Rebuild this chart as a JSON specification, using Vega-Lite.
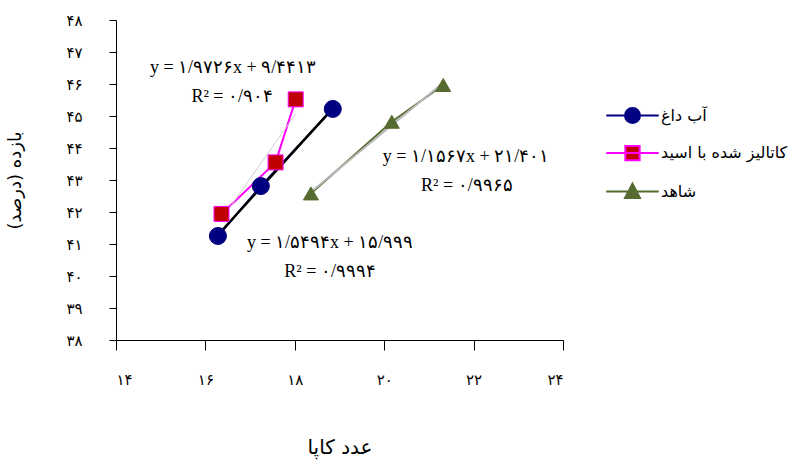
{
  "$schema": "https://vega.github.io/schema/vega-lite/v6.json",
  "width": 447,
  "height": 320,
  "autosize": {"type": "none"},
  "padding": {"left": 116, "top": 20, "right": 239, "bottom": 128},
  "background": "white",
  "config": {
    "view": {"stroke": null},
    "font": "DejaVu Sans",
    "legend": {
      "orient": "none",
      "legendX": 508,
      "legendY": 87,
      "padding": 0,
      "symbolSize": 225,
      "symbolStrokeWidth": 2,
      "labelOffset": 20,
      "rowPadding": 14.5,
      "labelFontSize": 16,
      "labelFont": "DejaVu Sans",
      "labelColor": "black",
      "labelLimit": 0
    }
  },
  "datasets": {
    "pts": [
      {"series": "آب داغ", "kappa": 16.28, "yield": 41.25},
      {"series": "آب داغ", "kappa": 17.24, "yield": 42.81},
      {"series": "آب داغ", "kappa": 18.85, "yield": 45.22},
      {"series": "کاتالیز شده با اسید", "kappa": 16.36, "yield": 41.94},
      {"series": "کاتالیز شده با اسید", "kappa": 17.57, "yield": 43.55},
      {"series": "کاتالیز شده با اسید", "kappa": 18.02, "yield": 45.52},
      {"series": "شاهد", "kappa": 18.36, "yield": 42.58},
      {"series": "شاهد", "kappa": 20.17, "yield": 44.82},
      {"series": "شاهد", "kappa": 21.32, "yield": 45.97}
    ],
    "notes": [
      {"kappa": 16.62, "yield": 46.5, "label": "y = ۱/۹۷۲۶x + ۹/۴۴۱۳"},
      {"kappa": 16.6, "yield": 45.6, "label": "R² = ۰/۹۰۴"},
      {"kappa": 18.79, "yield": 41.03, "label": "y = ۱/۵۴۹۴x + ۱۵/۹۹۹"},
      {"kappa": 18.79, "yield": 40.12, "label": "R² = ۰/۹۹۹۴"},
      {"kappa": 21.83, "yield": 43.72, "label": "y = ۱/۱۵۶۷x + ۲۱/۴۰۱"},
      {"kappa": 21.85, "yield": 42.81, "label": "R² = ۰/۹۹۶۵"}
    ]
  },
  "encoding": {
    "x": {
      "field": "kappa", "type": "quantitative",
      "scale": {"domain": [14, 24], "nice": false, "zero": false},
      "axis": {
        "values": [14, 16, 18, 20, 22, 24],
        "tickCount": 20,
        "format": "d",
        "title": "عدد کاپا",
        "grid": false,
        "labelOverlap": false,
        "domainColor": "black",
        "tickColor": "black",
        "tickSize": 10,
        "labelPadding": 22,
        "labelFontSize": 15,
        "labelColor": "black",
        "labelFont": "DejaVu Sans",
        "titleFont": "DejaVu Sans",
        "titleFontSize": 20,
        "titleFontWeight": "normal",
        "titleColor": "black",
        "titlePadding": 50,
        "labelExpr": "replace(replace(replace(replace(replace(replace(replace(replace(replace(replace(datum.label,regexp('0','g'),'۰'),regexp('1','g'),'۱'),regexp('2','g'),'۲'),regexp('3','g'),'۳'),regexp('4','g'),'۴'),regexp('5','g'),'۵'),regexp('6','g'),'۶'),regexp('7','g'),'۷'),regexp('8','g'),'۸'),regexp('9','g'),'۹')"
      }
    },
    "y": {
      "field": "yield", "type": "quantitative",
      "scale": {"domain": [38, 48], "nice": false, "zero": false},
      "axis": {
        "values": [38, 39, 40, 41, 42, 43, 44, 45, 46, 47, 48],
        "tickCount": 20,
        "format": "d",
        "title": "بازده (درصد)",
        "grid": false,
        "labelOverlap": false,
        "domainColor": "black",
        "tickColor": "black",
        "tickSize": 7,
        "labelPadding": 27,
        "labelFontSize": 15,
        "labelColor": "black",
        "labelFont": "DejaVu Sans",
        "titleFont": "DejaVu Sans",
        "titleFontSize": 18,
        "titleFontWeight": "normal",
        "titleColor": "black",
        "titlePadding": 41,
        "labelExpr": "replace(replace(replace(replace(replace(replace(replace(replace(replace(replace(datum.label,regexp('0','g'),'۰'),regexp('1','g'),'۱'),regexp('2','g'),'۲'),regexp('3','g'),'۳'),regexp('4','g'),'۴'),regexp('5','g'),'۵'),regexp('6','g'),'۶'),regexp('7','g'),'۷'),regexp('8','g'),'۸'),regexp('9','g'),'۹')"
      }
    }
  },
  "layer": [
    {
      "data": {"name": "pts"},
      "mark": {"type": "line", "strokeWidth": 2},
      "encoding": {
        "color": {
          "field": "series", "type": "nominal",
          "scale": {"domain": ["آب داغ", "کاتالیز شده با اسید", "شاهد"], "range": ["#000080", "#ff00ff", "#556b2f"]},
          "legend": null
        }
      }
    },
    {
      "data": {"name": "pts"},
      "transform": [{"regression": "yield", "on": "kappa", "groupby": ["series"]}],
      "mark": {"type": "line"},
      "encoding": {
        "detail": {"field": "series", "type": "nominal"},
        "stroke": {
          "condition": [
            {"test": "datum.series === 'آب داغ'", "value": "#000000"},
            {"test": "datum.series === 'شاهد'", "value": "#b8b8b8"}
          ],
          "value": "#d0d0d0"
        },
        "strokeWidth": {
          "condition": [
            {"test": "datum.series === 'آب داغ'", "value": 2.5},
            {"test": "datum.series === 'شاهد'", "value": 2}
          ],
          "value": 1
        }
      }
    },
    {
      "data": {"name": "pts"},
      "mark": {"type": "point", "filled": true, "opacity": 1, "strokeWidth": 1},
      "encoding": {
        "shape": {
          "field": "series", "type": "nominal",
          "scale": {"domain": ["آب داغ", "کاتالیز شده با اسید", "شاهد"], "range": ["circle", "square", "triangle-up"]},
          "legend": null
        },
        "fill": {
          "field": "series", "type": "nominal",
          "scale": {"domain": ["آب داغ", "کاتالیز شده با اسید", "شاهد"], "range": ["#000080", "#c00000", "#556b2f"]},
          "legend": null
        },
        "stroke": {
          "field": "series", "type": "nominal",
          "scale": {"domain": ["آب داغ", "کاتالیز شده با اسید", "شاهد"], "range": ["#000080", "#ff00ff", "#556b2f"]},
          "legend": null
        },
        "size": {
          "condition": {"test": "datum.series === 'آب داغ'", "value": 290},
          "value": 225
        }
      }
    },
    {
      "data": {"name": "notes"},
      "mark": {"type": "text", "font": "Liberation Serif", "fontSize": 18, "color": "black", "align": "center", "baseline": "middle"},
      "encoding": {
        "text": {"field": "label", "type": "nominal"}
      }
    },
    {
      "data": {"values": []},
      "mark": {"type": "point", "filled": true, "opacity": 1, "strokeWidth": 2},
      "encoding": {
        "shape": {
          "field": "series", "type": "nominal",
          "scale": {"domain": ["آب داغ", "کاتالیز شده با اسید", "شاهد"], "range": [
            "M-3.5,0H3.5M-1,0A1,1,0,1,0,1,0A1,1,0,1,0,-1,0Z",
            "M-3.5,0H3.5M-0.95,-0.95H0.95V0.95H-0.95Z",
            "M-3.5,0H3.5M0,-1.05L1,0.85H-1Z"
          ]},
          "legend": {"title": null}
        },
        "fill": {
          "field": "series", "type": "nominal",
          "scale": {"domain": ["آب داغ", "کاتالیز شده با اسید", "شاهد"], "range": ["#000080", "#c00000", "#556b2f"]},
          "legend": {"title": null}
        },
        "stroke": {
          "field": "series", "type": "nominal",
          "scale": {"domain": ["آب داغ", "کاتالیز شده با اسید", "شاهد"], "range": ["#000080", "#ff00ff", "#556b2f"]},
          "legend": {"title": null}
        }
      }
    }
  ],
  "resolve": {"scale": {"shape": "independent", "fill": "independent", "stroke": "independent"}}
}
